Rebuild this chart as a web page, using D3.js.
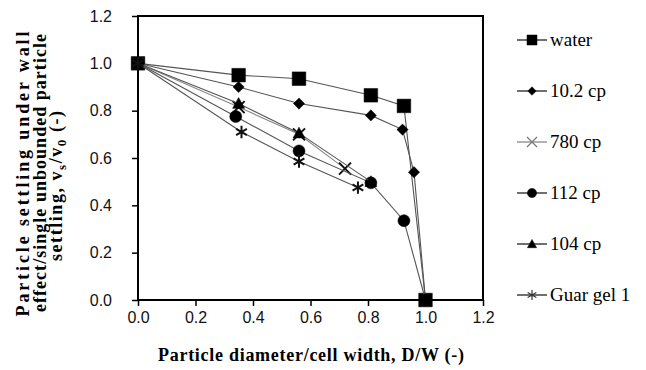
<!DOCTYPE html>
<html>
<head>
<meta charset="utf-8">
<script src="https://cdn.jsdelivr.net/npm/d3@7"></script>
<style>
  html, body { margin: 0; padding: 0; background: #fff; }
  svg { display: block; }
</style>
</head>
<body>
<svg id="chart" width="646" height="370"></svg>
<script>
// Relative settling velocity vs. particle-to-cell width ratio
const seriesNames = ["water", "10.2 cp", "780 cp", "112 cp", "104 cp", "Guar gel 1"];
const waterX = [0, 0.35, 0.56, 0.81, 0.925, 1.0];
const waterY = [1.0, 0.95, 0.935, 0.865, 0.82, 0.0];
const cp10X = [0, 0.35, 0.56, 0.81, 0.92, 0.96, 1.0];
const cp10Y = [1.0, 0.90, 0.83, 0.78, 0.72, 0.54, 0.0];
const cp780X = [0, 0.35, 0.56, 0.72];
const cp780Y = [1.0, 0.815, 0.70, 0.555];
const cp112X = [0, 0.34, 0.56, 0.81, 0.925, 1.0];
const cp112Y = [1.0, 0.775, 0.63, 0.495, 0.335, 0.0];
const cp104X = [0, 0.35, 0.56, 0.81];
const cp104Y = [1.0, 0.83, 0.705, 0.50];
const guarX = [0, 0.36, 0.56, 0.765];
const guarY = [1.0, 0.71, 0.585, 0.475];
const xTicks = [0, 0.2, 0.4, 0.6, 0.8, 1.0, 1.2];
const yTicks = [0, 0.2, 0.4, 0.6, 0.8, 1.0, 1.2];

const seriesX = [waterX, cp10X, cp780X, cp112X, cp104X, guarX];
const seriesY = [waterY, cp10Y, cp780Y, cp112Y, cp104Y, guarY];
const markers = ["square", "diamond", "times", "circle", "triangle", "asterisk"];
const lineColors = ["#555", "#555", "#888", "#555", "#555", "#555"];

const svg = d3.select("#chart");
const serif = "'Liberation Serif', 'Times New Roman', serif";
const sans = "'Liberation Sans', Arial, sans-serif";

const x = d3.scaleLinear().domain([0, 1.2]).range([138, 483]);
const y = d3.scaleLinear().domain([0, 1.2]).range([300, 16]);

// Marker path builders (r = half-width in px)
function markerPath(kind, r) {
  switch (kind) {
    case "square":
      return `M${-r},${-r}H${r}V${r}H${-r}Z`;
    case "diamond":
      return `M0,${-r}L${r},0L0,${r}L${-r},0Z`;
    case "circle":
      return `M${r},0A${r},${r} 0 1,1 ${-r},0A${r},${r} 0 1,1 ${r},0Z`;
    case "triangle":
      return `M0,${-r}L${r},${r * 0.8}L${-r},${r * 0.8}Z`;
    case "times":
      return `M${-r},${-r}L${r},${r}M${-r},${r}L${r},${-r}`;
    case "asterisk": {
      const c = Math.cos(Math.PI / 6) * r, s = Math.sin(Math.PI / 6) * r;
      return `M0,${-r}V${r}M${-c},${-s}L${c},${s}M${-c},${s}L${c},${-s}`;
    }
  }
}
const filled = { square: true, diamond: true, circle: true, triangle: true, times: false, asterisk: false };
const plotSize = { square: 6.8, diamond: 5.6, circle: 6, triangle: 6, times: 6, asterisk: 6.2 };
const legendSize = { square: 5, diamond: 4.2, circle: 4.6, triangle: 4.6, times: 5, asterisk: 5 };

// Axes
const xAxis = d3.axisBottom(x).tickValues(xTicks).tickFormat(d3.format(".1f")).tickSize(6).tickPadding(6);
const yAxis = d3.axisLeft(y).tickValues(yTicks).tickFormat(d3.format(".1f")).tickSize(6).tickPadding(20);

const gx = svg.append("g").attr("transform", "translate(0,300)").call(xAxis);
const gy = svg.append("g").attr("transform", "translate(138,0)").call(yAxis);
[gx, gy].forEach(g => {
  g.select(".domain").remove();
  g.selectAll(".tick line").attr("stroke", "#000").attr("stroke-width", 1.5);
  g.selectAll(".tick text").attr("fill", "#111").style("font-family", sans).style("font-size", "16px");
});

// Plot frame
svg.append("rect")
  .attr("x", x(0)).attr("y", y(1.2))
  .attr("width", x(1.2) - x(0)).attr("height", y(0) - y(1.2))
  .attr("fill", "none").attr("stroke", "#000").attr("stroke-width", 2);

// Series lines and markers
const line = d3.line().x(d => x(d[0])).y(d => y(d[1]));
seriesNames.forEach((name, i) => {
  const pts = seriesX[i].map((v, j) => [v, seriesY[i][j]]);
  const g = svg.append("g").attr("class", "series");
  g.append("path").attr("d", line(pts))
    .attr("fill", "none").attr("stroke", lineColors[i]).attr("stroke-width", 1.1);
  const kind = markers[i];
  g.selectAll("path.mk").data(pts).join("path")
    .attr("class", "mk")
    .attr("transform", d => `translate(${x(d[0])},${y(d[1])})`)
    .attr("d", markerPath(kind, plotSize[kind]))
    .attr("fill", filled[kind] ? "#000" : "none")
    .attr("stroke", filled[kind] ? "#000" : "#111")
    .attr("stroke-width", filled[kind] ? 0.5 : 2);
});

// Legend
const legend = svg.append("g");
seriesNames.forEach((name, i) => {
  const ry = 40 + i * 51;
  const kind = markers[i];
  const g = legend.append("g").attr("transform", `translate(0,${ry})`);
  g.append("line").attr("x1", 517).attr("x2", 547).attr("y1", 0).attr("y2", 0)
    .attr("stroke", i === 2 ? "#888" : "#222").attr("stroke-width", 1.3);
  g.append("path").attr("transform", "translate(532,0)")
    .attr("d", markerPath(kind, legendSize[kind]))
    .attr("fill", filled[kind] ? "#000" : "none")
    .attr("stroke", filled[kind] ? "#000" : (i === 2 ? "#777" : "#333"))
    .attr("stroke-width", filled[kind] ? 0.5 : 1.2);
  g.append("text").attr("x", 550).attr("y", 0).attr("dy", "0.33em")
    .style("font-family", serif).style("font-size", "19px").attr("fill", "#000")
    .text(name);
});

// Axis titles
svg.append("text")
  .attr("x", 311).attr("y", 361)
  .attr("text-anchor", "middle")
  .attr("textLength", 306).attr("lengthAdjust", "spacing")
  .style("font-family", serif).style("font-size", "18px").style("font-weight", "bold")
  .text("Particle diameter/cell width, D/W (-)");

const yTitle = svg.append("g").style("font-family", serif).style("font-size", "18px").style("font-weight", "bold");
yTitle.append("text")
  .attr("transform", "translate(29,174) rotate(-90)")
  .attr("text-anchor", "middle").attr("textLength", 285).attr("lengthAdjust", "spacing")
  .text("Particle settling under wall");
yTitle.append("text")
  .attr("transform", "translate(46,173) rotate(-90)")
  .attr("text-anchor", "middle").attr("textLength", 278).attr("lengthAdjust", "spacing")
  .text("effect/single unbounded particle");
const t3 = yTitle.append("text")
  .attr("transform", "translate(62,186) rotate(-90)")
  .attr("text-anchor", "middle").attr("textLength", 150).attr("lengthAdjust", "spacing");
t3.append("tspan").text("settling, v");
t3.append("tspan").attr("dy", 4).style("font-size", "13px").text("s");
t3.append("tspan").attr("dy", -4).text("/v");
t3.append("tspan").attr("dy", 4).style("font-size", "13px").text("0");
t3.append("tspan").attr("dy", -4).text(" (-)");
</script>
</body>
</html>
